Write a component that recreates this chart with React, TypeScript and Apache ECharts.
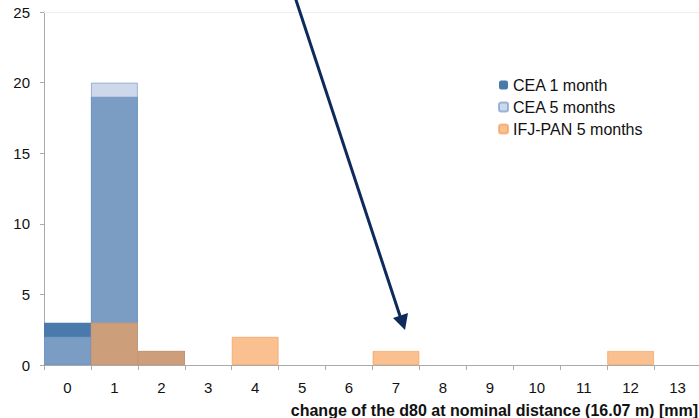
import React, { useEffect, useRef } from "react";
import * as echarts from "echarts";

const categories = ["0", "1", "2", "3", "4", "5", "6", "7", "8", "9", "10", "11", "12", "13"];
const cea1Month = [3, 19, 1, 0, 0, 0, 0, 0, 0, 0, 0, 0, 0, 0];
const cea5Months = [2, 20, 1, 0, 0, 0, 0, 0, 0, 0, 0, 0, 0, 0];
const ifjPan5Months = [0, 3, 1, 0, 2, 0, 0, 1, 0, 0, 0, 0, 1, 0];
const yTicks = { min: 0, max: 25, interval: 5 };
const xTitle = "change of the d80 at nominal distance (16.07 m) [mm]";

const nz = (arr: number[]) => arr.map((v) => (v === 0 ? null : v));

export default function App() {
  const ref = useRef<HTMLDivElement>(null);
  useEffect(() => {
    if (!ref.current) return;
    const chart = echarts.init(ref.current, null, { renderer: "svg" });
    const font = "'Liberation Sans', Arial, sans-serif";
    chart.setOption({
      animation: false,
      backgroundColor: "#ffffff",
      grid: { left: 44, right: -2, top: 12, bottom: 53, outerBoundsMode: "none", containLabel: false },
      legend: {
        orient: "vertical",
        left: 493,
        top: 72,
        itemWidth: 9,
        itemHeight: 9,
        itemGap: 6,
        textStyle: { fontFamily: font, fontSize: 16, color: "#111" },
        data: ["CEA 1 month", "CEA 5 months", "IFJ-PAN 5 months"],
      },
      xAxis: [
        {
          type: "category",
          data: categories,
          boundaryGap: true,
          axisLine: { lineStyle: { color: "#aaaaaa", width: 1 } },
          axisTick: { show: true, alignWithLabel: false, length: 5, lineStyle: { color: "#aaaaaa" } },
          axisLabel: { fontFamily: font, fontSize: 15, color: "#111", margin: 15 },
          splitLine: { show: false },
        },
        {
          type: "category",
          data: categories,
          position: "top",
          axisLine: { lineStyle: { color: "#eeeeee", width: 1 } },
          axisTick: { show: false },
          axisLabel: { show: false },
        },
      ],
      yAxis: {
        type: "value",
        min: yTicks.min,
        max: yTicks.max,
        interval: yTicks.interval,
        axisLine: { show: true, lineStyle: { color: "#aaaaaa", width: 1 } },
        axisTick: { show: true, length: 4, lineStyle: { color: "#aaaaaa" } },
        axisLabel: { fontFamily: font, fontSize: 15, color: "#111", margin: 14 },
        splitLine: { show: false },
      },
      series: [
        {
          name: "CEA 1 month",
          type: "bar",
          data: nz(cea1Month),
          barGap: "-100%",
          barCategoryGap: "0%",
          itemStyle: { color: "#4a7aab" },
        },
        {
          name: "CEA 5 months",
          type: "bar",
          data: nz(cea5Months),
          barGap: "-100%",
          barCategoryGap: "0%",
          itemStyle: { color: "rgba(164,186,217,0.55)", borderColor: "rgba(120,155,205,0.7)", borderWidth: 1 },
        },
        {
          name: "IFJ-PAN 5 months",
          type: "bar",
          data: nz(ifjPan5Months),
          barGap: "-100%",
          barCategoryGap: "0%",
          itemStyle: { color: "rgba(249,158,83,0.65)", borderColor: "rgba(240,150,80,0.6)", borderWidth: 1 },
        },
      ],
      graphic: [
        {
          type: "line",
          shape: { x1: 295, y1: -3, x2: 400, y2: 316 },
          style: { stroke: "#0e2a5c", lineWidth: 3 },
          z: 100,
        },
        {
          type: "polygon",
          shape: { points: [[405, 330], [393, 318], [408, 313]] },
          style: { fill: "#0e2a5c" },
          z: 100,
        },
        {
          type: "text",
          right: 1,
          top: 402,
          style: { text: xTitle, fontFamily: font, fontSize: 16, fontWeight: "bold", fill: "#111" },
        },
      ],
    });
    return () => chart.dispose();
  }, []);
  return <div ref={ref} style={{ width: 699, height: 418, position: "absolute", left: 0, top: 0 }} />;
}
